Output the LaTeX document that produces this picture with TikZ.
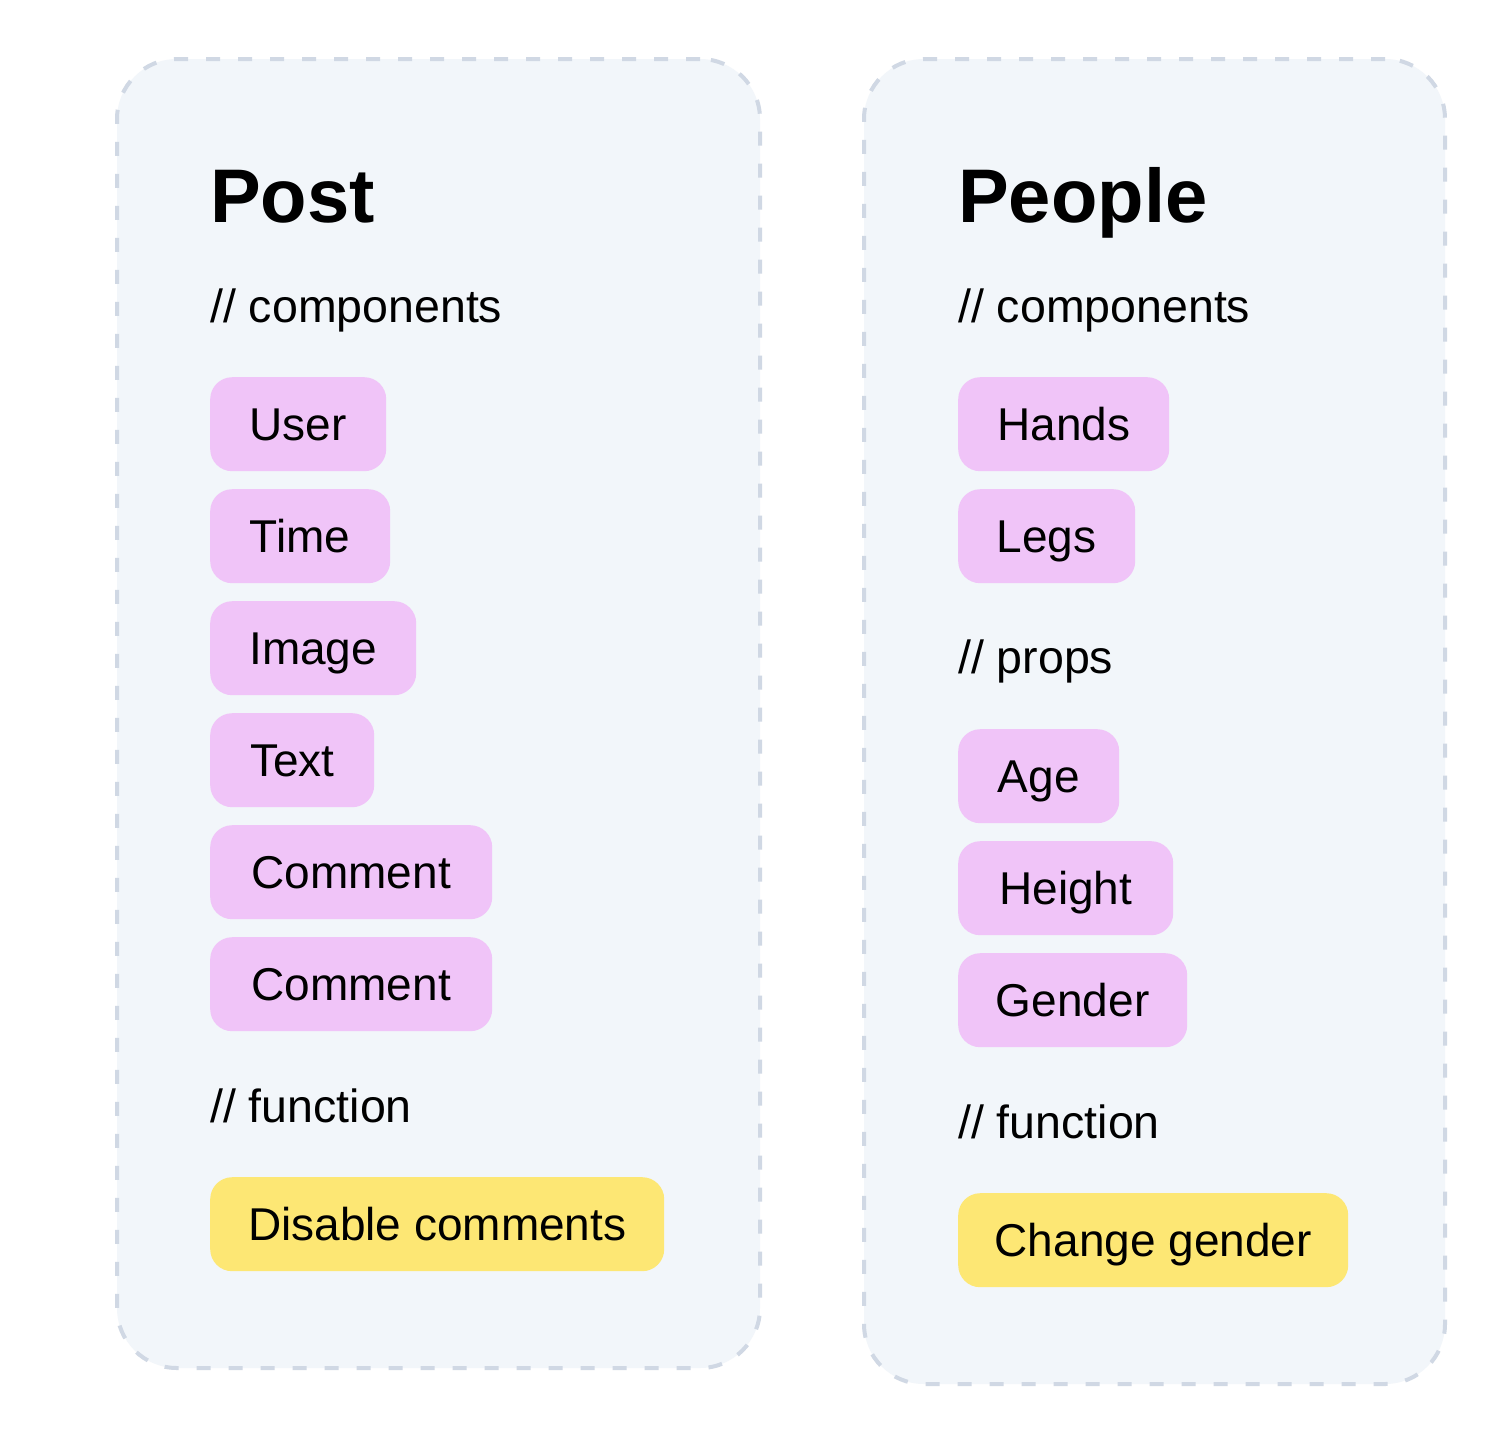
\documentclass[tikz,border=0pt]{standalone}
\usepackage{fontspec}
\setmainfont{Liberation Sans}
\definecolor{panelfill}{HTML}{F2F6FA}
\definecolor{paneledge}{HTML}{D0D8E4}
\definecolor{pinkpill}{HTML}{F0C4F8}
\definecolor{yellowpill}{HTML}{FDE774}
\tikzset{
  panel/.style={draw=paneledge, fill=panelfill, line width=4pt, dash pattern=on 14pt off 18pt, rounded corners=60pt, anchor=north west, inner sep=0pt},
  pill/.style={rectangle, rounded corners=22pt, fill=pinkpill, minimum height=94pt, inner sep=0pt, anchor=north west, text height=33pt, text depth=0pt, font=\fontsize{46}{55}\selectfont},
  fnpill/.style={pill, fill=yellowpill},
  heading/.style={anchor=base west, inner sep=0pt, font=\fontsize{76}{86}\selectfont\bfseries},
  comment/.style={anchor=base west, inner sep=0pt, font=\fontsize{46.5}{55}\selectfont}
}
\begin{document}
\begin{tikzpicture}[x=1pt,y=-1pt]
\fill[white] (0,0) rectangle (1496,1432);
\useasboundingbox (0,0) rectangle (1496,1432);
% panels
\node[panel, minimum width=643pt, minimum height=1309pt] (postpanel) at (115,57) {};
\node[panel, minimum width=581pt, minimum height=1325pt] (peoplepanel) at (862,57) {};
% Post
\node[heading] (posttitle) at (210,222) {Post};
\node[comment] (postcomp) at (210,322) {// components};
\node[pill, minimum width=176pt] (user) at (210,377) {User};
\node[pill, minimum width=180pt] (time) at (210,489) {Time};
\node[pill, minimum width=206pt] (image) at (210,601) {Image};
\node[pill, minimum width=164pt] (text) at (210,713) {Text};
\node[pill, minimum width=282pt] (comment1) at (210,825) {Comment};
\node[pill, minimum width=282pt] (comment2) at (210,937) {Comment};
\node[comment] (postfn) at (210,1122) {// function};
\node[fnpill, minimum width=454pt] (disable) at (210,1177) {Disable comments};
% People
\node[heading] (peopletitle) at (958,222) {People};
\node[comment] (peoplecomp) at (958,322) {// components};
\node[pill, minimum width=211pt] (hands) at (958,377) {Hands};
\node[pill, minimum width=177pt] (legs) at (958,489) {Legs};
\node[comment] (peopleprops) at (958,673) {// props};
\node[pill, minimum width=161pt] (age) at (958,729) {Age};
\node[pill, minimum width=215pt] (height) at (958,841) {Height};
\node[pill, minimum width=229pt] (gender) at (958,953) {Gender};
\node[comment] (peoplefn) at (958,1138) {// function};
\node[fnpill, minimum width=390pt] (change) at (958,1193) {Change gender};
\end{tikzpicture}
\end{document}
